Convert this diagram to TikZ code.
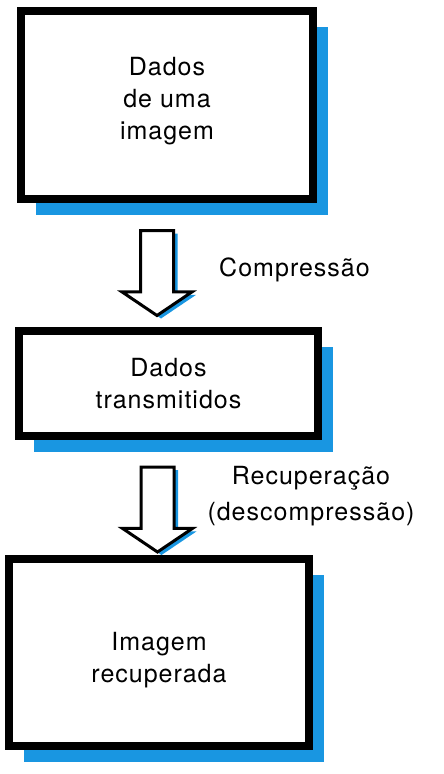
\documentclass[tikz,border=0pt]{standalone}
\usepackage{fontspec}
\setmainfont{TeX Gyre Heros}[LetterSpace=4]
\usetikzlibrary{arrows.meta,positioning,shapes.arrows,shadows}
\definecolor{shadeblue}{RGB}{25,150,225}
\tikzset{
  box/.style={
    rectangle, draw=black, line width=8pt,
    fill=white, drop shadow={shadow xshift=15pt, shadow yshift=-16pt, fill=shadeblue, opacity=1},
    align=center, inner sep=0pt, font=\fontsize{25}{32}\selectfont
  },
  flow/.style={
    single arrow, draw=black, line width=3pt, fill=white,
    drop shadow={shadow xshift=4pt, shadow yshift=-3pt, fill=shadeblue, opacity=1},
    minimum height=85pt, minimum width=0pt, inner xsep=0pt, inner ysep=15pt,
    single arrow head extend=18.5pt, single arrow tip angle=112,
    rotate=-90, anchor=tail
  },
  note/.style={align=center, inner sep=0pt, font=\fontsize{25}{36}\selectfont},
}
\begin{document}
\begin{tikzpicture}[x=1pt,y=1pt]
\useasboundingbox (0,0) rectangle (444,-774);
% --- Nodes ---
\node[box, minimum width=292pt, minimum height=188pt, text depth=13pt] (img) at (167,-105) {Dados\\de uma\\imagem};
\node[box, minimum width=299pt, minimum height=105pt, below=124pt of img, xshift=1.5pt] (trans) {Dados\\transmitidos};
\node[box, minimum width=300pt, minimum height=187pt, below=115pt of trans, xshift=-9.5pt, text height=59pt, text depth=0pt] (rec) {Imagem\\recuperada};
% --- Arrows ---
\node[flow] (comp) at ([xshift=-10pt,yshift=-26pt]img.south) {};    % img -> trans
\node[flow] (decomp) at ([xshift=-11pt,yshift=-25.5pt]trans.south) {}; % trans -> rec
% labels beside the arrows
\node[note, anchor=base west] (lcomp) at ([xshift=62pt,yshift=-47pt]comp.tail) {Compressão};
\node[note, anchor=north] (ldecomp) at ([xshift=153.5pt,yshift=-1pt]decomp.tail) {Recuperação\\(descompressão)};
\end{tikzpicture}
\end{document}
